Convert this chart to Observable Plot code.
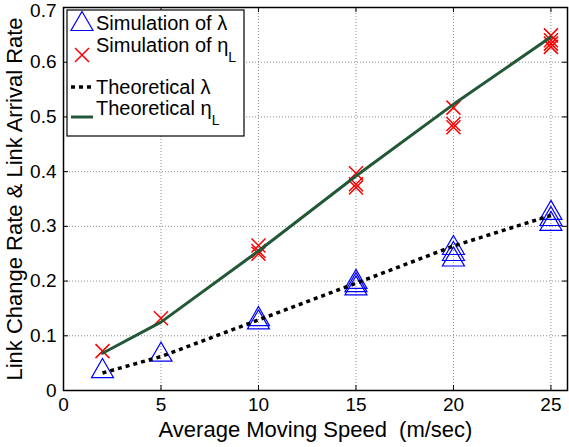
<!DOCTYPE html>
<html>
<head>
<meta charset="utf-8">
<script src="https://cdn.jsdelivr.net/npm/d3@7"></script>
<script src="https://cdn.jsdelivr.net/npm/@observablehq/plot@0.6"></script>
<style>
  html, body { margin: 0; padding: 0; background: #fff; }
  #chart { position: relative; width: 569px; height: 447px; font-family: "Liberation Sans", Arial, Helvetica, sans-serif; }
  #legend { position: absolute; left: 0; top: 0; pointer-events: none; }
</style>
</head>
<body>
<div id="chart"></div>
<script>
// ---- data ----
const speeds = [2, 5, 10, 15, 20, 25];
const theoLambda = [0.032, 0.062, 0.129, 0.196, 0.264, 0.32];
const theoEta = [0.068, 0.125, 0.255, 0.392, 0.523, 0.646];

const simLambdaSpeed = [2, 5, 10, 10, 15, 15, 15, 20, 20, 20, 25, 25, 25];
const simLambdaValue = [0.041, 0.071, 0.130, 0.136, 0.192, 0.198, 0.204, 0.245, 0.255, 0.266, 0.310, 0.319, 0.330];

const simEtaSpeed = [2, 5, 10, 10, 10, 15, 15, 15, 20, 20, 20, 25, 25, 25, 25];
const simEtaValue = [0.072, 0.132, 0.250, 0.255, 0.265, 0.371, 0.377, 0.397, 0.481, 0.487, 0.517, 0.628, 0.634, 0.640, 0.649];

const xTicks = [0, 5, 10, 15, 20, 25];
const yTicks = [0, 0.1, 0.2, 0.3, 0.4, 0.5, 0.6, 0.7];
const xGrid = [5, 10, 15, 20, 25];
const yGrid = [0.1, 0.2, 0.3, 0.4, 0.5, 0.6];

const xLabel = "Average Moving Speed\u00a0 (m/sec)";
const yLabel = "Link Change Rate & Link Arrival Rate";

// ---- layout ----
const W = 569, H = 447;
const mTop = 7, mRight = 2, mBottom = 57, mLeft = 63;
const plotW = W - mLeft - mRight, plotH = H - mTop - mBottom;
const tickLen = 5;
const FONT = '"Liberation Sans", Arial, Helvetica, sans-serif';

const theoLambdaData = speeds.map((s, i) => ({speed: s, value: theoLambda[i]}));
const theoEtaData = speeds.map((s, i) => ({speed: s, value: theoEta[i]}));
const simLambdaData = simLambdaSpeed.map((s, i) => ({speed: s, value: simLambdaValue[i]}));
const simEtaData = simEtaSpeed.map((s, i) => ({speed: s, value: simEtaValue[i]}));

const yMax = d3.max(yTicks);
const yFmt = d => d === 0 ? "0" : d.toFixed(1);

const triangleSymbol = {
  draw(ctx, size) {
    const r = Math.sqrt(size / Math.PI);
    const h = 0.866 * r;
    ctx.moveTo(0, -h); ctx.lineTo(r, h); ctx.lineTo(-r, h); ctx.closePath();
  }
};
const crossSymbol = {
  draw(ctx, size) {
    const r = Math.sqrt(size / Math.PI);
    ctx.moveTo(-r, -r); ctx.lineTo(r, r); ctx.moveTo(r, -r); ctx.lineTo(-r, r);
  }
};

const chart = Plot.plot({
  width: W, height: H,
  marginTop: mTop, marginRight: mRight, marginBottom: mBottom, marginLeft: mLeft,
  x: {domain: [0, 25.85]},
  y: {domain: [0, 0.7]},
  style: {fontFamily: FONT, fontSize: "19px", background: "white", color: "black", overflow: "visible"},
  marks: [
    Plot.gridX(xGrid, {stroke: "#8c8c8c", strokeOpacity: 1, strokeDasharray: "1,2"}),
    Plot.gridY(yGrid, {stroke: "#8c8c8c", strokeOpacity: 1, strokeDasharray: "1,2"}),
    // inward ticks on all four sides
    Plot.tickX(xTicks, {x: d => d, insetTop: plotH - tickLen, stroke: "black"}),
    Plot.tickX(xTicks, {x: d => d, insetBottom: plotH - tickLen, stroke: "black"}),
    Plot.tickY(yTicks, {y: d => d, insetRight: plotW - tickLen, stroke: "black"}),
    Plot.tickY(yTicks, {y: d => d, insetLeft: plotW - tickLen, stroke: "black"}),
    Plot.axisX(xTicks, {tickSize: 0, tickPadding: 7, fontSize: 19, label: null}),
    Plot.axisY(yTicks.filter(t => t < yMax), {tickSize: 0, tickPadding: 7, fontSize: 19, label: null, tickFormat: yFmt}),
    Plot.axisY(yTicks.filter(t => t === yMax), {tickSize: 0, tickPadding: 7, fontSize: 19, label: null, tickFormat: yFmt, dy: 3}),
    // simulation markers
    Plot.dot(simLambdaData, {x: "speed", y: "value", symbol: triangleSymbol, r: 11,
      stroke: "#0000ff", strokeWidth: 1.2, fill: "none"}),
    Plot.dot(simEtaData, {x: "speed", y: "value", symbol: crossSymbol, r: 7,
      stroke: "#ff0000", strokeWidth: 1.5, fill: "none"}),
    // theoretical lines
    Plot.line(theoLambdaData, {x: "speed", y: "value", stroke: "black", strokeWidth: 3.5,
      strokeDasharray: "4,4", strokeLinecap: "butt"}),
    Plot.line(theoEtaData, {x: "speed", y: "value", stroke: "#225738", strokeWidth: 3}),
    Plot.frame({stroke: "black", strokeWidth: 1.5}),
    // axis titles
    Plot.text([xLabel], {text: d => d, frameAnchor: "bottom", dy: 46, fontSize: 22,
      lineAnchor: "bottom", textAnchor: "middle", fill: "black"}),
    Plot.text([yLabel], {text: d => d, frameAnchor: "left", dx: -49, rotate: -90, fontSize: 22,
      textAnchor: "middle", lineAnchor: "middle", fill: "black"})
  ]
});

const container = document.getElementById("chart");
container.appendChild(chart);

// ---- legend (overlay) ----
const legendEntries = [
  {label: "Simulation of λ", sub: ""},
  {label: "Simulation of η", sub: "L"},
  {label: "Theoretical λ", sub: ""},
  {label: "Theoretical η", sub: "L"}
];
const lg = d3.select(container).append("svg")
  .attr("id", "legend").attr("width", W).attr("height", H)
  .style("font-family", FONT);
lg.append("rect").attr("x", 67).attr("y", 10).attr("width", 177).attr("height", 126)
  .attr("fill", "white").attr("stroke", "black").attr("stroke-width", 1.2);
// symbols
lg.append("path").attr("d", "M82,11.5L93,30.5L71,30.5Z").attr("fill", "none")
  .attr("stroke", "#0000ff").attr("stroke-width", 1.2);
lg.append("path").attr("d", "M75,48L89,62M89,48L75,62").attr("stroke", "#ff0000").attr("stroke-width", 1.5);
lg.append("line").attr("x1", 71).attr("x2", 92).attr("y1", 87).attr("y2", 87)
  .attr("stroke", "black").attr("stroke-width", 3.5).attr("stroke-dasharray", "4,4");
lg.append("line").attr("x1", 71).attr("x2", 93).attr("y1", 117).attr("y2", 117)
  .attr("stroke", "#225738").attr("stroke-width", 3);
const baselines = [30, 52, 94, 115];
legendEntries.forEach((e, i) => {
  const t = lg.append("text").attr("x", 96).attr("y", baselines[i]).attr("font-size", 20).attr("fill", "black");
  t.append("tspan").text(e.label);
  if (e.sub) t.append("tspan").attr("dy", 10).attr("font-size", 14).text(e.sub);
});
</script>
</body>
</html>
